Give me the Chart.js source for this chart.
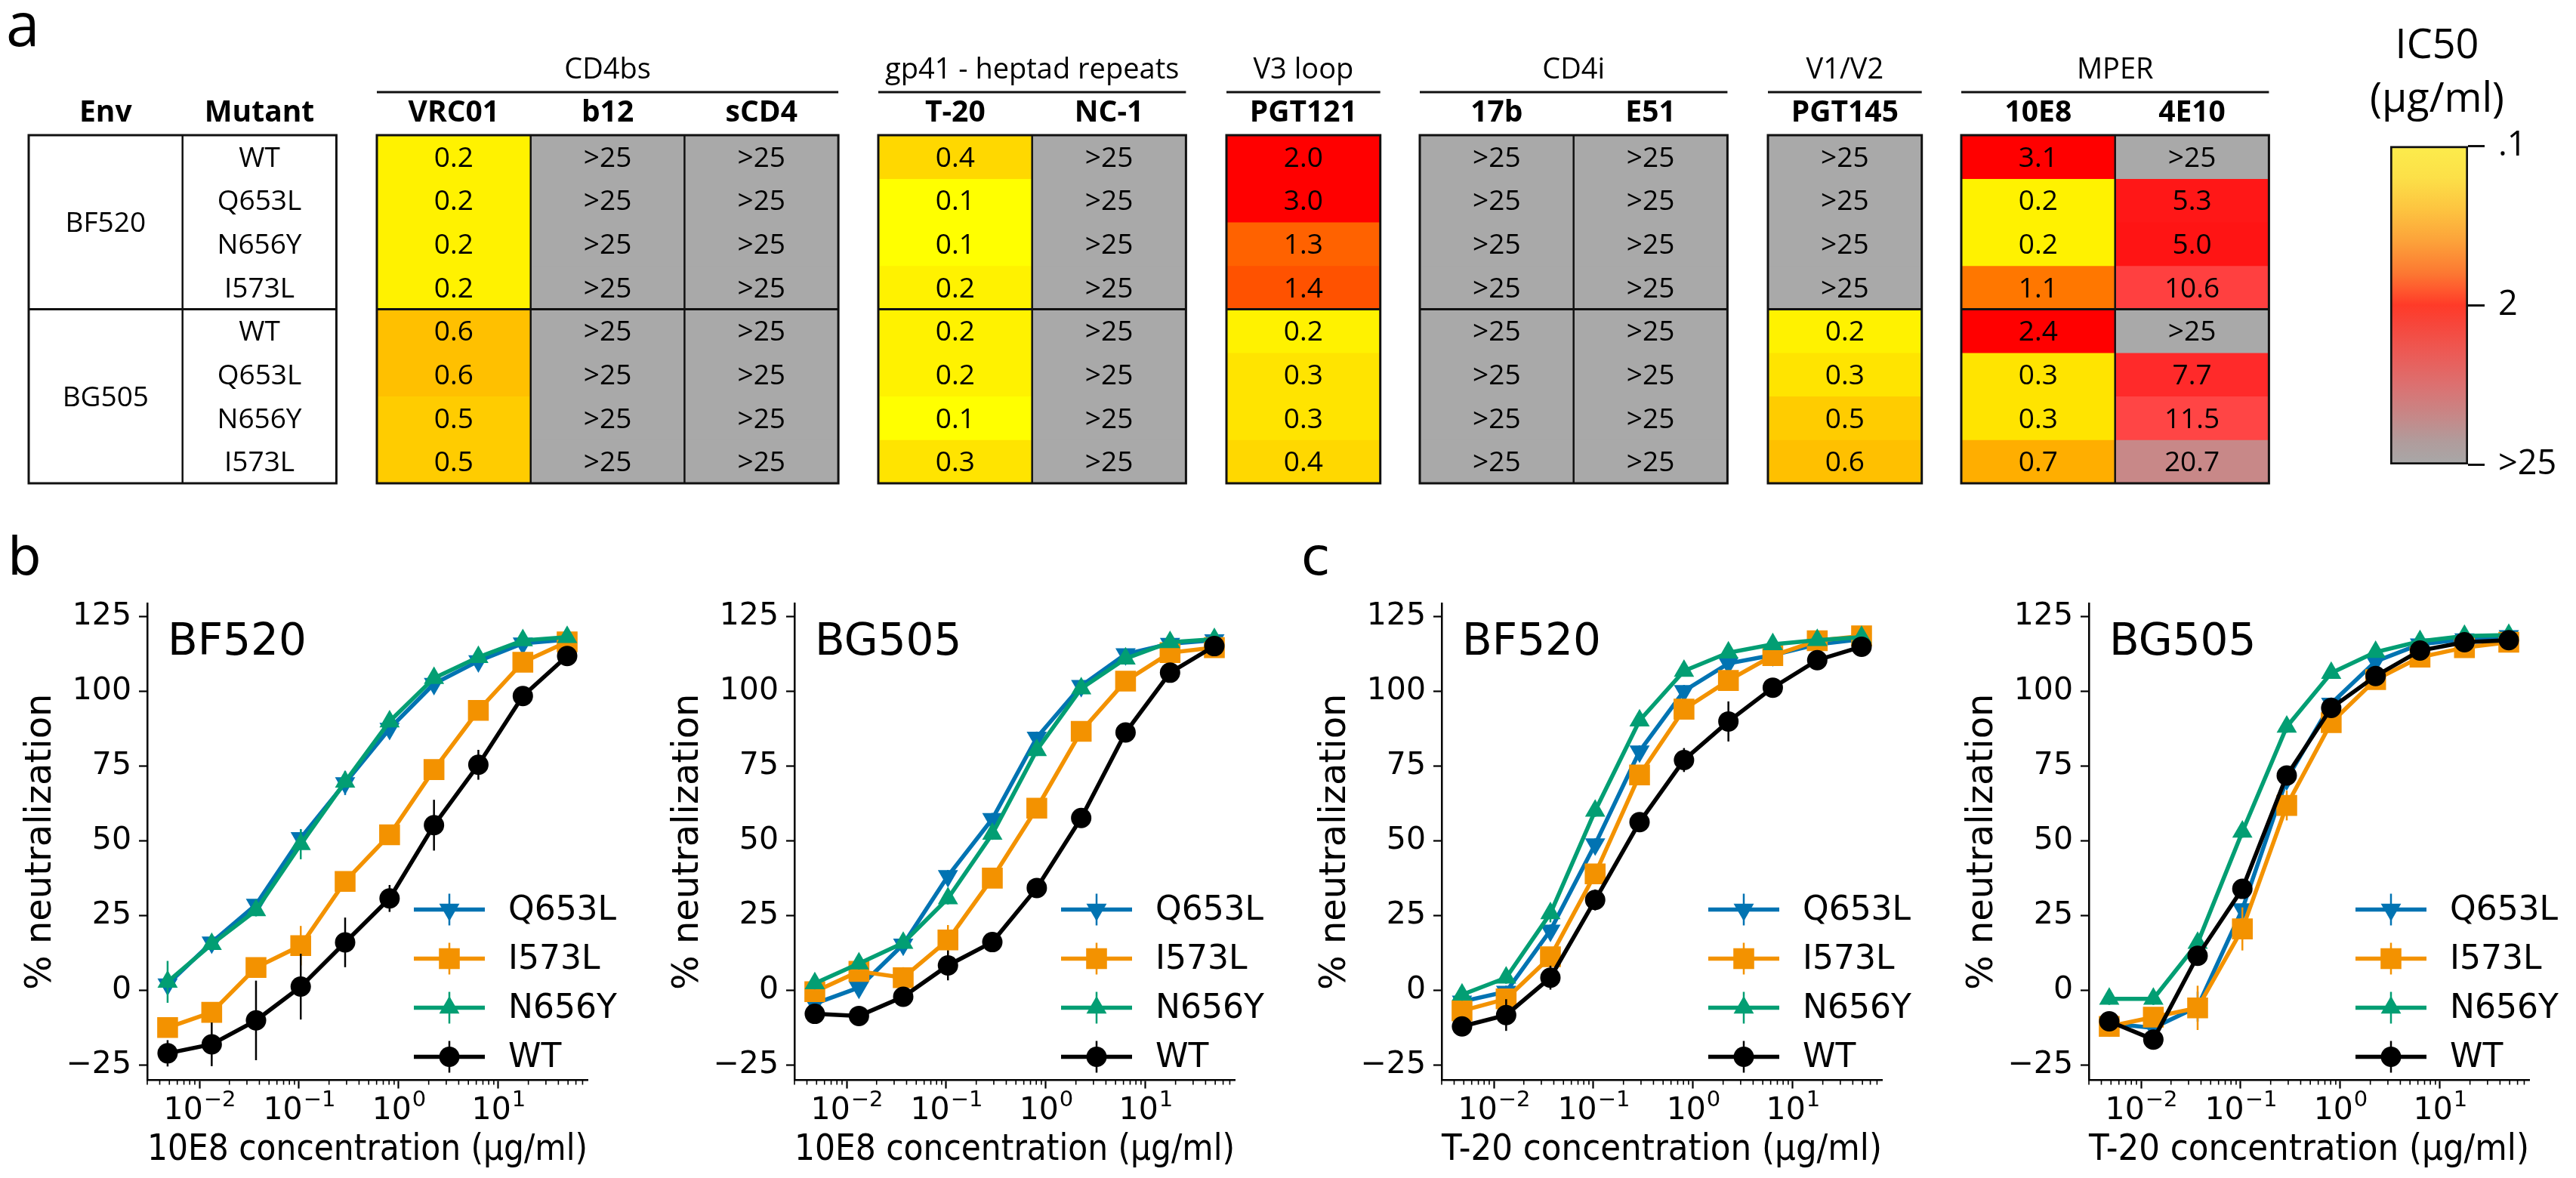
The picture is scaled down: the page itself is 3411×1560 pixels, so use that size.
<!DOCTYPE html>
<html>
<head>
<meta charset="utf-8">
<script src="https://cdn.jsdelivr.net/npm/chart.js@4.4.1/dist/chart.umd.min.js"></script>
<style>
  html, body { margin: 0; padding: 0; background: #fff; }
  #page { position: relative; width: 3411px; height: 1560px; overflow: hidden; background: #fff; }
  #page canvas { position: absolute; }
  .panel { position: absolute; line-height: 1; color: #000; }
</style>
</head>
<body>
<div id="page">
  <div class="panel" style="left:8px; top:-10px; font-family:'Open Sans'; font-size:80px;">a</div>
  <div class="panel" style="left:10px; top:702px; font-family:'DejaVu Sans'; font-size:70px;">b</div>
  <div class="panel" style="left:1723px; top:702px; font-family:'DejaVu Sans'; font-size:70px;">c</div>
</div>
<script>
// ---------- panel a : IC50 table (ug/ml), null = >25 ----------
var envs = ['BF520', 'BG505'];
var mutants = ['WT', 'Q653L', 'N656Y', 'I573L', 'WT', 'Q653L', 'N656Y', 'I573L'];

var ic50_VRC01  = [0.2, 0.2, 0.2, 0.2, 0.6, 0.6, 0.5, 0.5];
var ic50_b12    = [null, null, null, null, null, null, null, null];
var ic50_sCD4   = [null, null, null, null, null, null, null, null];
var ic50_T20    = [0.4, 0.1, 0.1, 0.2, 0.2, 0.2, 0.1, 0.3];
var ic50_NC1    = [null, null, null, null, null, null, null, null];
var ic50_PGT121 = [2.0, 3.0, 1.3, 1.4, 0.2, 0.3, 0.3, 0.4];
var ic50_17b    = [null, null, null, null, null, null, null, null];
var ic50_E51    = [null, null, null, null, null, null, null, null];
var ic50_PGT145 = [null, null, null, null, 0.2, 0.3, 0.5, 0.6];
var ic50_10E8   = [3.1, 0.2, 0.2, 1.1, 2.4, 0.3, 0.3, 0.7];
var ic50_4E10   = [null, 5.3, 5.0, 10.6, null, 7.7, 11.5, 20.7];

var groupTitles = ['CD4bs', 'gp41 - heptad repeats', 'V3 loop', 'CD4i', 'V1/V2', 'MPER'];
var groupMabs   = [['VRC01', 'b12', 'sCD4'], ['T-20', 'NC-1'], ['PGT121'], ['17b', 'E51'], ['PGT145'], ['10E8', '4E10']];
var groupValues = [[ic50_VRC01, ic50_b12, ic50_sCD4], [ic50_T20, ic50_NC1], [ic50_PGT121],
                   [ic50_17b, ic50_E51], [ic50_PGT145], [ic50_10E8, ic50_4E10]];

var cbarTicks = [0, 1, 2];
var cbarTickLabels = ['.1', '2', '>25'];

// ---------- panels b, c : neutralization curves ----------
var concentrations = [0.0048, 0.0133, 0.037, 0.104, 0.29, 0.81, 2.26, 6.3, 17.6, 49];
var xTickValues = [0.01, 0.1, 1, 10];
var xTickBase = '10';
var xTickExponents = ['\u22122', '\u22121', '0', '1'];
var yTickValues = [-25, 0, 25, 50, 75, 100, 125];
var yTickLabels = ['\u221225', '0', '25', '50', '75', '100', '125'];

var seriesNames = ['Q653L', 'I573L', 'N656Y', 'WT'];

// b, BF520, 10E8
var bf10_Q653L = [2.1, 16.1, 28.7, 51.0, 69.4, 87.6, 102.6, 110.2, 116.1, 117.4];
var bf10_I573L = [-12.4, -7.3, 7.7, 15.0, 36.5, 52.1, 73.9, 93.7, 109.8, 116.6];
var bf10_N656Y = [2.9, 15.5, 26.8, 48.9, 69.8, 90.0, 104.5, 111.5, 117.1, 118.2];
var bf10_WT    = [-21.0, -18.0, -10.0, 1.3, 16.1, 30.8, 55.3, 75.5, 98.5, 111.9];
var bf10_Q653L_err = [3, 1.5, 1.5, 3, 4, 2, 1.5, 1, 1, 1];
var bf10_I573L_err = [2, 3, 3, 6.6, 2, 2, 2, 2, 1.5, 1];
var bf10_N656Y_err = [7, 2, 2, 5, 2, 2, 1.5, 1, 1, 1];
var bf10_WT_err    = [4.4, 7.3, 13.3, 11, 8.3, 4.5, 8.5, 5, 1.5, 1.5];

// b, BG505, 10E8
var bg10_Q653L = [-4.4, 1.0, 15.4, 38.3, 57.4, 84.6, 101.9, 112.5, 116.0, 117.2];
var bg10_I573L = [-0.4, 6.4, 4.3, 16.9, 37.6, 61.0, 86.7, 103.5, 113.0, 114.7];
var bg10_N656Y = [2.4, 9.0, 15.9, 30.8, 52.4, 80.4, 101.0, 111.0, 116.5, 117.5];
var bg10_WT    = [-7.8, -8.5, -2.1, 8.4, 16.2, 34.3, 57.7, 86.3, 106.3, 115.2];
var bg10_Q653L_err = [2, 2, 2, 2, 2, 2, 1.5, 1, 1, 1];
var bg10_I573L_err = [2, 2, 3.5, 5, 2, 2, 2, 1.5, 1, 1];
var bg10_N656Y_err = [2, 2, 2, 2, 2, 2, 1.5, 1, 1, 1];
var bg10_WT_err    = [2, 2, 2, 5, 2, 2, 2, 2, 1, 1];

// c, BF520, T-20
var bfT_Q653L = [-3.7, -0.4, 20.1, 48.9, 80.0, 100.2, 109.4, 112.2, 115.8, 117.5];
var bfT_I573L = [-6.8, -2.8, 11.3, 39.0, 72.1, 94.1, 103.7, 112.0, 117.0, 118.6];
var bfT_N656Y = [-1.4, 4.3, 25.8, 60.1, 90.3, 106.9, 113.0, 115.8, 117.2, 118.2];
var bfT_WT    = [-12.0, -8.2, 4.3, 30.3, 56.3, 77.1, 90.0, 101.3, 110.5, 115.0];
var bfT_Q653L_err = [2, 2, 2, 2, 2, 2, 1.5, 1, 1, 1];
var bfT_I573L_err = [2, 2, 2, 2, 2, 3, 2, 1, 1, 1];
var bfT_N656Y_err = [2, 2, 3, 2, 2, 1.5, 1, 1, 1, 1];
var bfT_WT_err    = [2, 5.3, 4, 3.5, 2, 4, 6.7, 2, 1.5, 1];

// c, BG505, T-20
var bgT_Q653L = [-11.0, -12.5, -5.4, 27.2, 70.7, 96.0, 110.1, 115.8, 117.5, 118.6];
var bgT_I573L = [-12.0, -8.9, -5.8, 20.6, 61.9, 89.6, 104.0, 111.5, 114.7, 116.5];
var bgT_N656Y = [-2.8, -2.8, 15.9, 53.1, 88.2, 106.2, 113.2, 116.8, 118.6, 118.9];
var bgT_WT    = [-10.3, -16.4, 11.6, 34.0, 71.9, 94.5, 105.2, 113.7, 116.5, 117.2];
var bgT_Q653L_err = [2, 2, 5, 2, 2, 2, 1, 1, 1, 1];
var bgT_I573L_err = [3.5, 2, 7.4, 7.2, 5, 2, 2, 1.5, 1, 1];
var bgT_N656Y_err = [2, 2, 2, 2, 2, 1.5, 1, 1, 1, 1];
var bgT_WT_err    = [2, 2, 2, 2, 2, 2, 1.5, 1, 1, 1];

// ---------- styles ----------
var seriesColors = ['#0173B2', '#F39200', '#029E73', '#000000'];
var seriesStyles = ['triangle', 'rect', 'triangle', 'circle'];
var seriesRotation = [180, 0, 0, 0];
var seriesRadius = [15.5, 19.5, 15.5, 13.5];

var cellColorStops = [
  [0.1, '#FFFF00'], [0.2, '#FFF200'], [0.3, '#FFE400'], [0.4, '#FFD800'],
  [0.5, '#FFCC00'], [0.6, '#FFC000'], [0.7, '#FFAE00'], [1.1, '#FF7700'],
  [1.3, '#FF6200'], [1.4, '#FF5200'], [2.0, '#FF0000'], [3.1, '#FF0000'],
  [5.0, '#FF1414'], [7.7, '#FF2A2A'], [10.6, '#FF4040'], [11.5, '#FF4545'],
  [20.7, '#C88888']
];
var noNeutColor = '#A9A9A9';
var cbarStops = [
  [0, '#FCEC4C'], [0.1, '#FCE048'], [0.2, '#FDC440'], [0.3, '#FCA23A'], [0.4, '#FC7832'],
  [0.45, '#FF5A2E'], [0.5, '#FF3A28'], [0.55, '#F84438'], [0.65, '#EC5A55'], [0.75, '#DC7070'],
  [0.85, '#C68888'], [0.93, '#B09C9C'], [1, '#A8A8A8']
];

var LINE = '#111';
var COL_W = 203.7;
var SIDE = 10;
var TABLE_TOP = 179, TABLE_BOTTOM = 640, TABLE_H = 660;
var envBlockLeft = 38;
var groupLeft = [499, 1163, 1624, 1880, 2341, 2597];

function hexRgb(h) {
  return [parseInt(h.substr(1, 2), 16), parseInt(h.substr(3, 2), 16), parseInt(h.substr(5, 2), 16)];
}
function ic50Color(v) {
  if (v === null) return noNeutColor;
  var s = cellColorStops;
  if (v <= s[0][0]) return s[0][1];
  for (var i = 1; i < s.length; i++) {
    if (v <= s[i][0]) {
      var t = (Math.log(v) - Math.log(s[i - 1][0])) / (Math.log(s[i][0]) - Math.log(s[i - 1][0]));
      var a = hexRgb(s[i - 1][1]), b = hexRgb(s[i][1]);
      return 'rgb(' + Math.round(a[0] + (b[0] - a[0]) * t) + ',' + Math.round(a[1] + (b[1] - a[1]) * t) + ',' + Math.round(a[2] + (b[2] - a[2]) * t) + ')';
    }
  }
  return s[s.length - 1][1];
}
function fmt(v) { return v === null ? '>25' : v.toFixed(1); }

function addCanvas(left, top, w, h) {
  var c = document.createElement('canvas');
  c.width = w; c.height = h;
  c.style.left = left + 'px'; c.style.top = top + 'px';
  c.style.width = w + 'px'; c.style.height = h + 'px';
  document.getElementById('page').appendChild(c);
  return c;
}
function seg(ctx, x1, y1, x2, y2) {
  ctx.beginPath(); ctx.moveTo(x1, y1); ctx.lineTo(x2, y2); ctx.stroke();
}

// one block of the table: stacked bars, one dataset per row
function tableChart(left, title, names, cellColor, cellText, spanText) {
  var n = names.length;
  var w = Math.round(n * COL_W + 2 * SIDE);
  var cv = addCanvas(left - SIDE, 0, w, TABLE_H);
  var datasets = mutants.map(function (m, r) {
    return {
      data: names.map(function () { return 1; }),
      backgroundColor: names.map(function (nm, c) { return cellColor(c, r); }),
      borderWidth: 0, barPercentage: 1, categoryPercentage: 1
    };
  });
  var envSplit = mutants.length / envs.length;
  var deco = {
    id: 'tableDeco',
    afterDatasetsDraw: function (chart) {
      var ctx = chart.ctx, area = chart.chartArea, ys = chart.scales.y;
      var bars = chart.getDatasetMeta(0).data;
      ctx.save();
      ctx.fillStyle = '#000'; ctx.textAlign = 'center'; ctx.textBaseline = 'alphabetic';
      ctx.font = '37px "Open Sans"';
      chart.data.datasets.forEach(function (ds, r) {
        chart.getDatasetMeta(r).data.forEach(function (bar, c) {
          var t = cellText(c, r);
          if (t) ctx.fillText(t, bar.x, (bar.y + bar.base) / 2 + 13);
        });
      });
      if (spanText) {
        envs.forEach(function (e, k) {
          ctx.fillText(e, bars[0].x, ys.getPixelForValue(k * envSplit + envSplit / 2) + 13);
        });
      }
      ctx.strokeStyle = LINE;
      ctx.lineWidth = 2.5;
      bars.forEach(function (bar, c) {
        if (c > 0) seg(ctx, bar.x - bar.width / 2, area.top, bar.x - bar.width / 2, area.bottom);
      });
      ctx.lineWidth = 3;
      for (var k = 1; k < envs.length; k++) {
        var ym = ys.getPixelForValue(k * envSplit);
        seg(ctx, area.left, ym, area.right, ym);
      }
      ctx.strokeRect(area.left, area.top, area.right - area.left, area.bottom - area.top);
      ctx.font = 'bold 39px "Open Sans"';
      bars.forEach(function (bar, c) { ctx.fillText(chart.data.labels[c], bar.x, area.top - 18); });
      if (title) {
        ctx.font = '38px "Open Sans"';
        ctx.fillText(title, (area.left + area.right) / 2, area.top - 75);
        seg(ctx, area.left, area.top - 57, area.right, area.top - 57);
      }
      ctx.restore();
    }
  };
  new Chart(cv, {
    type: 'bar',
    data: { labels: names, datasets: datasets },
    options: {
      responsive: false, animation: false, events: [],
      layout: { padding: { left: SIDE, right: w - SIDE - n * COL_W, top: TABLE_TOP, bottom: TABLE_H - TABLE_BOTTOM } },
      plugins: { legend: { display: false }, tooltip: { enabled: false } },
      scales: {
        x: { display: false, stacked: true },
        y: { display: false, stacked: true, min: 0, max: mutants.length, reverse: true }
      }
    },
    plugins: [deco]
  });
}

function colourBar() {
  var cv = addCanvas(3047, 0, 360, TABLE_H);
  var title = {
    id: 'cbarTitle',
    afterDraw: function (chart) {
      var ctx = chart.ctx;
      ctx.save();
      ctx.fillStyle = '#000'; ctx.textAlign = 'center'; ctx.textBaseline = 'alphabetic';
      ctx.font = '54px "Open Sans"';
      ctx.fillText('IC50', chart.width / 2, 77);
      ctx.fillText('(\u00B5g/ml)', chart.width / 2, 148);
      ctx.restore();
    }
  };
  new Chart(cv, {
    type: 'bar',
    data: {
      labels: ['IC50'],
      datasets: [{
        data: [[cbarTicks[0], cbarTicks[cbarTicks.length - 1]]],
        backgroundColor: function (c) {
          var a = c.chart.chartArea;
          if (!a) return null;
          var g = c.chart.ctx.createLinearGradient(0, a.top, 0, a.bottom);
          cbarStops.forEach(function (s) { g.addColorStop(s[0], s[1]); });
          return g;
        },
        borderColor: LINE, borderWidth: 3, borderSkipped: false,
        barPercentage: 1, categoryPercentage: 1
      }]
    },
    options: {
      responsive: false, animation: false, events: [],
      layout: { padding: { left: 118, right: 19, top: 193, bottom: 43 } },
      plugins: { legend: { display: false }, tooltip: { enabled: false } },
      scales: {
        x: { display: false },
        y: {
          position: 'right', min: 0, max: 2, reverse: true,
          afterFit: function (s) { s.width = 120; },
          afterBuildTicks: function (s) { s.ticks = cbarTicks.map(function (v) { return { value: v }; }); },
          ticks: { callback: function (v, i) { return cbarTickLabels[i]; }, font: { family: 'Open Sans', size: 45 }, color: '#000', padding: 18 },
          grid: { drawOnChartArea: false, tickLength: 22, tickWidth: 3, tickColor: LINE },
          border: { display: false }
        }
      }
    },
    plugins: [title]
  });
}

function drawMarker(ctx, style, x, y, r, rot) {
  ctx.beginPath();
  if (style === 'circle') {
    ctx.arc(x, y, r, 0, 2 * Math.PI);
  } else if (style === 'rect') {
    var s = r * Math.SQRT1_2;
    ctx.rect(x - s, y - s, 2 * s, 2 * s);
  } else {
    var a = rot * Math.PI / 180;
    for (var k = 0; k < 3; k++) {
      var px = x + Math.sin(a) * r, py = y - Math.cos(a) * r;
      if (k === 0) ctx.moveTo(px, py); else ctx.lineTo(px, py);
      a += 2 * Math.PI / 3;
    }
    ctx.closePath();
  }
  ctx.fill();
}

function neutChart(left, envName, mAb, values, errors) {
  var cv = addCanvas(left, 700, 840, 860);
  var datasets = seriesNames.map(function (name, i) {
    return {
      label: name,
      data: concentrations.map(function (c, k) { return { x: c, y: values[i][k] }; }),
      err: errors[i],
      borderColor: seriesColors[i], backgroundColor: seriesColors[i],
      pointBackgroundColor: seriesColors[i], pointBorderWidth: 0,
      borderWidth: 5.5, pointStyle: seriesStyles[i], pointRotation: seriesRotation[i],
      pointRadius: seriesRadius[i], tension: 0, order: seriesNames.length - 1 - i
    };
  });
  var deco = {
    id: 'neutDeco',
    beforeDatasetDraw: function (chart, args) {
      var ds = chart.data.datasets[args.index], ys = chart.scales.y, ctx = chart.ctx;
      ctx.save();
      ctx.strokeStyle = ds.borderColor; ctx.lineWidth = 2.5;
      args.meta.data.forEach(function (pt, k) {
        var v = ds.data[k].y, e = ds.err[k];
        seg(ctx, pt.x, ys.getPixelForValue(v + e), pt.x, ys.getPixelForValue(v - e));
      });
      ctx.restore();
    },
    afterDraw: function (chart) {
      var ctx = chart.ctx, area = chart.chartArea, xs = chart.scales.x;
      ctx.save();
      // minor log ticks
      ctx.strokeStyle = '#000'; ctx.lineWidth = 1.6;
      for (var e = -3; e <= 1; e++) {
        for (var m = 2; m <= 9; m++) {
          var v = m * Math.pow(10, e);
          if (v < xs.min || v > xs.max) continue;
          var px = xs.getPixelForValue(v);
          seg(ctx, px, area.bottom, px, area.bottom + 6);
        }
      }
      // major tick labels, 10 with a raised exponent
      ctx.fillStyle = '#000'; ctx.textAlign = 'left'; ctx.textBaseline = 'alphabetic';
      xTickValues.forEach(function (tv, i) {
        ctx.font = '41px "DejaVu Sans"';
        var wb = ctx.measureText(xTickBase).width;
        ctx.font = '29px "DejaVu Sans"';
        var we = ctx.measureText(xTickExponents[i]).width;
        var x0 = xs.getPixelForValue(tv) - (wb + we) / 2;
        ctx.font = '41px "DejaVu Sans"';
        ctx.fillText(xTickBase, x0, area.bottom + 51);
        ctx.font = '29px "DejaVu Sans"';
        ctx.fillText(xTickExponents[i], x0 + wb + 1, area.bottom + 34);
      });
      // panel name
      ctx.font = '58px "DejaVu Sans"';
      ctx.fillText(envName, area.left + 27, area.top + 68);
      // legend, lower right
      ctx.font = '44px "DejaVu Sans"'; ctx.textBaseline = 'middle';
      seriesNames.forEach(function (name, i) {
        var y = area.bottom - 226 + i * 65, mx = area.right - 183;
        ctx.strokeStyle = seriesColors[i]; ctx.fillStyle = seriesColors[i];
        ctx.lineWidth = 5.5; seg(ctx, area.right - 230, y, area.right - 136, y);
        ctx.lineWidth = 2.5; seg(ctx, mx, y - 21, mx, y + 21);
        drawMarker(ctx, seriesStyles[i], mx, y, seriesRadius[i], seriesRotation[i]);
        ctx.fillStyle = '#000';
        ctx.fillText(name, area.right - 105, y + 2);
      });
      ctx.restore();
    }
  };
  var font = function (size) { return { family: 'DejaVu Sans', size: size }; };
  new Chart(cv, {
    type: 'line',
    data: { datasets: datasets },
    options: {
      responsive: false, animation: false, events: [],
      layout: { padding: { left: 0, right: 840 - 195 - 583, top: 99, bottom: 0 } },
      plugins: { legend: { display: false }, tooltip: { enabled: false } },
      scales: {
        x: {
          type: 'logarithmic', min: 0.003, max: 78.5,
          afterFit: function (s) { s.height = 129.5; },
          afterBuildTicks: function (s) { s.ticks = xTickValues.map(function (v) { return { value: v }; }); },
          ticks: { display: false },
          grid: { drawOnChartArea: false, tickLength: 11, tickWidth: 2.2, tickColor: '#000' },
          border: { color: '#000', width: 2.5 },
          title: { display: true, text: mAb + ' concentration (\u00B5g/ml)', font: font(48), color: '#000', padding: { top: 0, bottom: 8 } }
        },
        y: {
          min: -30, max: 129.5,
          afterFit: function (s) { s.width = 195; },
          afterBuildTicks: function (s) { s.ticks = yTickValues.map(function (v) { return { value: v }; }); },
          ticks: { callback: function (v, i) { return yTickLabels[i]; }, font: font(41), color: '#000', padding: 10 },
          grid: { drawOnChartArea: false, tickLength: 11, tickWidth: 2.2, tickColor: '#000' },
          border: { color: '#000', width: 2.5 },
          title: { display: true, text: '% neutralization', font: font(48), color: '#000', padding: { top: 26, bottom: 0 } }
        }
      }
    },
    plugins: [deco]
  });
}

function drawAll() {
  tableChart(envBlockLeft, null, ['Env', 'Mutant'],
    function () { return '#FFFFFF'; },
    function (c, r) { return c === 1 ? mutants[r] : ''; },
    true);
  groupTitles.forEach(function (t, g) {
    var vals = groupValues[g];
    tableChart(groupLeft[g], t, groupMabs[g],
      function (c, r) { return ic50Color(vals[c][r]); },
      function (c, r) { return fmt(vals[c][r]); },
      false);
  });
  colourBar();

  neutChart(0, 'BF520', '10E8',
    [bf10_Q653L, bf10_I573L, bf10_N656Y, bf10_WT],
    [bf10_Q653L_err, bf10_I573L_err, bf10_N656Y_err, bf10_WT_err]);
  neutChart(857, 'BG505', '10E8',
    [bg10_Q653L, bg10_I573L, bg10_N656Y, bg10_WT],
    [bg10_Q653L_err, bg10_I573L_err, bg10_N656Y_err, bg10_WT_err]);
  neutChart(1714, 'BF520', 'T-20',
    [bfT_Q653L, bfT_I573L, bfT_N656Y, bfT_WT],
    [bfT_Q653L_err, bfT_I573L_err, bfT_N656Y_err, bfT_WT_err]);
  neutChart(2571, 'BG505', 'T-20',
    [bgT_Q653L, bgT_I573L, bgT_N656Y, bgT_WT],
    [bgT_Q653L_err, bgT_I573L_err, bgT_N656Y_err, bgT_WT_err]);
}

Promise.all([
  document.fonts.load('37px "Open Sans"'),
  document.fonts.load('bold 39px "Open Sans"'),
  document.fonts.load('40px "DejaVu Sans"')
]).then(drawAll, drawAll);
</script>
</body>
</html>
